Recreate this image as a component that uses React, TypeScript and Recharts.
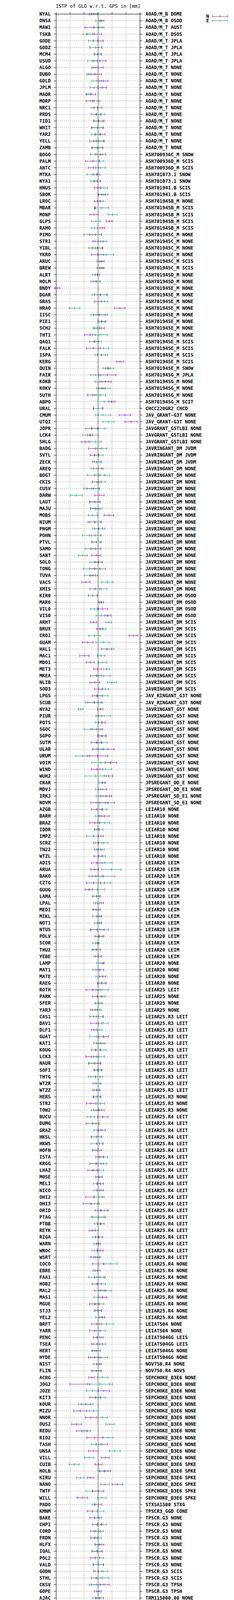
import React from 'react';
import { CartesianGrid, ComposedChart, ErrorBar, Legend, ReferenceLine, Scatter, XAxis, YAxis } from 'recharts';

// station names, top to bottom
const stations = [
  'NYAL', 'ONSA', 'MAW1', 'TSKB', 'GODE', 'GODZ', 'MCM4', 'USUD', 'ALGO', 'DUBO',
  'GOLD', 'JPLM', 'MADR', 'MORP', 'NRC1', 'PRDS', 'TID1', 'WHIT', 'YAR2', 'YELL',
  'ZAMB', 'BOGO', 'PALM', 'ANTC', 'MTKA', 'NYA1', 'HNUS', 'SBOK', 'LROC', 'MBAR',
  'MONP', 'GLPS', 'RAMO', 'PIMO', 'STR1', 'YIBL', 'YKRO', 'ARUC', 'BREW', 'ALRT',
  'HOLM', 'BNDY', 'DGAR', 'GRAS', 'HRAO', 'IISC', 'PIE1', 'SCH2', 'THTI', 'QAQ1',
  'FALK', 'ISPA', 'KERG',
  'QUIN', 'FAIR', 'KOKB', 'KOKV', 'SUTH', 'ABPO', 'URAL', 'CMUM', 'UTQI', 'JDPR',
  'LCK4', 'SHLG', 'BADG', 'SVTL', 'ZECK', 'AREQ', 'BOGT', 'CKIS', 'CUSV', 'DARW',
  'LAUT', 'MAJU', 'MOBS', 'NIUM', 'PNGM', 'POHN', 'PTVL', 'SAMO', 'SANT', 'SOLO',
  'TONG', 'TUVA', 'VACS', 'XMIS', 'KIR0', 'MAR6', 'VIL0', 'VIS0', 'ARHT', 'BRUX',
  'CRO1', 'GUAM', 'HAL1', 'MAC1', 'MDO1', 'MET3', 'MKEA', 'NLIB',
  'SOD3', 'LPGS', 'SCUB', 'NYA2', 'PIUR', 'POTS', 'SGOC', 'SGPO', 'SUTM', 'ULAB',
  'URUM', 'VOIM', 'WIND', 'WUH2', 'CRAR', 'MDVJ', 'IRKJ', 'NOVM', 'AZGB', 'BARH',
  'BRAZ', 'IDDR', 'IMPZ', 'SCRZ', 'TN22', 'WTZL', 'ADIS', 'ARUA', 'BAKO', 'CZTG',
  'GUUG', 'LAMA', 'LPAL', 'MEDI', 'MIKL', 'NOT1', 'NTUS', 'POLV', 'SCOR', 'THU2',
  'YEBE', 'LAMP', 'MAT1', 'MATE', 'RAEG', 'ROTH', 'PARK', 'SFER', 'YAR3',
  'CAS1', 'DAV1', 'DLF1', 'GUAT', 'KAT1', 'KOUG', 'LCK3', 'NAUR', 'SOFI', 'THTG',
  'WTZR', 'WTZZ', 'HERS', 'STR2', 'TOW2', 'BUCU', 'DUMG', 'GRAZ', 'HKSL', 'HKWS',
  'HOFN', 'ISTA', 'KRGG', 'LHAZ', 'M0SE', 'MELI', 'NICO', 'OHI2', 'OHI3', 'ORID',
  'PTAG', 'PTBB', 'REYK', 'RIGA', 'WARN', 'WROC', 'WSRT', 'COCO', 'EBRE', 'FAA1',
  'HOB2', 'MAL2', 'MAS1', 'MGUE', 'STJ3', 'YEL2', 'BRFT', 'YARR',
  'PENC', 'TSEA', 'HERT', 'HYDE', 'NIST', 'FLIN', 'ACRG', 'JOG2', 'JOZE', 'KIT3',
  'KOUR', 'MIZU', 'NNOR', 'OUS2', 'REDU', 'RIO2', 'TASH', 'UNSA', 'VILL', 'CUIB',
  'HOLB', 'KIRU', 'NANO', 'TWTF', 'WILL', 'PADO', 'KMNM', 'BAKE', 'CHPI', 'CORD',
  'FRDN', 'HLFX', 'IQAL', 'POL2', 'VALD', 'GODN', 'STHL', 'CKSV', 'GOPE', 'AJAC',
  'AUCK', 'BELE', 'BOAV', 'CHTI', 'GLSV', 'INEG', 'MNLS', 'MQZG',
  'POAL', 'POVE', 'SALU', 'SAVO', 'SCTB', 'TNML', 'TOPL', 'TXES', 'UFPR', 'VTSP',
  'WARK', 'WGTN', 'NRMD', 'AC24', 'DYNG', 'FLRS', 'FUNC', 'PDEL', 'TSK2', 'SYOG',
  'RABT', 'ASPA', 'REUN', 'UNBD', 'ABMF', 'BRST', 'CNMR', 'GRAC', 'ISBA', 'LMMF',
  'MARS', 'NVSK', 'PARC', 'STPM', 'TABL', 'TABV', 'UNB3', 'UNBJ', 'KOUC', 'AREG',
  'ASCG', 'BBYS', 'BOR1', 'CAGS', 'CHPG', 'CPVG', 'DJIG', 'FTNA',
  'GAMB', 'HARB', 'JFNG', 'JOZ2', 'KIRI', 'MAYG', 'MRO1', 'OWMG', 'PERT', 'SEYG',
  'TLSE', 'ZIM2', 'ZIM3', 'SPT0', 'AIRA', 'ALBH', 'BSHM', 'CCJ2', 'COTE', 'DAEJ',
  'GANP', 'GMSD', 'KITG', 'KZN2', 'METG', 'NKLG', 'RBAY', 'RDSD', 'RGDG', 'STK2',
  'TRO1', 'VNDP', 'P051', 'P779', 'WUHN', 'MCIL', 'SSIA', 'SUWN', 'MANA', 'CPXF',
  'KSU1', 'BJFS', 'DUBI', 'ALIC', 'CEDU', 'HNPT', 'KARR', 'SYDN', 'DRAO', 'CHUR',
  'NAIN', 'RESO', 'STJO', 'WES2',
];

// antenna + radome label for each run of consecutive stations
const antennaRuns: [string, number][] = [
  ['AOAD/M_B DOME', 1], ['AOAD/M_B OSOD', 1], ['AOAD/M_T AUST', 1], ['AOAD/M_T DSOS', 1],
  ['AOAD/M_T JPLA', 4], ['AOAD/M_T NONE', 13], ['ASH700936C_M SNOW', 1], ['ASH700936D_M SCIS', 2],
  ['ASH701073.1 SNOW', 2], ['ASH701941.B SCIS', 2], ['ASH701945B_M NONE', 1], ['ASH701945B_M SCIS', 4],
  ['ASH701945C_M NONE', 4], ['ASH701945C_M SCIS', 2], ['ASH701945D_M NONE', 2], ['ASH701945E_M NONE', 8],
  ['ASH701945E_M SCIS', 4], ['ASH701945E_M SNOW', 1], ['ASH701945G_M JPLA', 1], ['ASH701945G_M NONE', 3],
  ['ASH701945G_M SCIT', 1], ['CHCC220GR2 CHCD', 1], ['JAV_GRANT-G3T NONE', 2], ['JAVGRANT_G5TLBI NONE', 3],
  ['JAVRINGANT_DM JVDM', 3], ['JAVRINGANT_DM NONE', 19], ['JAVRINGANT_DM OSOD', 4], ['JAVRINGANT_DM SCIS', 11],
  ['JAV_RINGANT_G3T NONE', 2], ['JAVRINGANT_G5T NONE', 11], ['JPSREGANT_DD_E NONE', 1], ['JPSREGANT_DD_E1 NONE', 1],
  ['JPSREGANT_SD_E1 NONE', 2], ['LEIAR10 NONE', 8], ['LEIAR20 LEIM', 15], ['LEIAR20 NONE', 4],
  ['LEIAR25 LEIT', 1], ['LEIAR25 NONE', 3], ['LEIAR25.R3 LEIT', 12], ['LEIAR25.R3 NONE', 3],
  ['LEIAR25.R4 LEIT', 22], ['LEIAR25.R4 NONE', 9], ['LEIAT504 NONE', 2], ['LEIAT504GG LEIS', 2],
  ['LEIAT504GG NONE', 2], ['NOV750.R4 NONE', 1], ['NOV750.R4 NOVS', 1], ['SEPCHOKE_B3E6 NONE', 13],
  ['SEPCHOKE_B3E6 SPKE', 6], ['STXSA1500 STXG', 1], ['TPSCR3_GGD CONE', 1], ['TPSCR.G3 NONE', 8],
  ['TPSCR.G3 SCIS', 2], ['TPSCR.G3 TPSH', 2], ['TRM115000.00 NONE', 21], ['TRM115000.00 TZGD', 1],
  ['TRM159800.00 SCIT', 1], ['TRM159900.00 NONE', 5], ['TRM159900.00 SCIS', 1], ['TRM29659.00 SCIS', 1],
  ['TRM55971.00 NONE', 3], ['TRM57971.00 NONE', 14], ['TRM57971.00 TZGD', 1], ['TRM59800.00 NONE', 22],
  ['TRM59800.00 OSOD', 1], ['TRM59800.00 SCIS', 18], ['TRM59800.00 SCIT', 2], ['TRM59800.00C ENCL', 1],
  ['TRM59800.80 SCIS', 3], ['TRM59800.99 SCIS', 1], ['TRM59800.99 SCIT', 2], ['TRM59900.00 SCIS', 2],
  ['TWIVC6050 NONE', 5], ['TWIVC6050 SCIS', 1], ['TWIVC6150 NONE', 5],
];

// North component: offset and half-width of the bar [mm]
const nValue = [
  -2.35, 1.33, -1.55, -1.42, 0.02, -0.8, 0.0, 0.63, 0.0, -1.14,
  1.93, 1.47, -2.67, -1.84, -0.16, -0.72, 0.26, -0.26, 0.67, -0.53,
  -0.3, 0.86, -2.0, -1.74, -0.5, -0.28, -0.16, 1.23, -0.26, -1.14,
  -1.46, 3.98, 1.51, -0.91, 0.0, -0.21, -0.16, 1.05, 1.33, -0.26,
  -0.5, -14.6, 0.9, 0.02, 7.74, 0.44, 1.2, 0.44, -2.84, -1.42,
  -1.74, 1.2, 7.86,
  3.47, 3.33, 2.63, 1.4, -1.88, 4.95, 0.0, 9.6, 11.8, -2.4,
  -2.9, -4.66, -1.0, -1.28, -0.5, 0.07, 0.63, -0.49, -1.74, 0.49,
  -1.14, -1.05, 3.88, -1.28, 0.2, -1.05, -0.6, -0.86, -0.63, 0.16,
  -1.2, -1.86, -4.35, -1.14, -1.93, 1.1, 1.6, 3.56, -1.6, 0.63,
  12.63, -3.7, 3.0, -4.95, -2.81, -0.16, -0.7, -1.19,
  0.1, -0.3, -1.28, 0.77, 0.3, 1.37, -0.5, 1.37, -0.63, 1.88,
  -0.16, 4.55, -0.4, 3.7, 1.4, 1.6, 2.86, 0.49, -0.5, 2.3,
  -1.19, -0.4, 0.12, 0.2, 0.1, 0.0, -0.44, -1.19, -0.77, -1.6,
  -3.3, -0.63, 0.5, -0.45, 0.4, 0.5, -0.35, 0.5, -0.2, -0.72,
  0.2, 1.8, 0.67, 1.65, 1.33, -1.88, -0.26, 0.16, -1.05,
  -0.63, -0.63, -1.47, 1.9, 0.95, -0.77, -2.44, -1.23, -0.16, -1.0,
  -0.6, -0.6, -0.4, -2.58, 0.3, 1.7, -1.98, 1.37, -0.58, 0.5,
  -0.3, 0.53, -0.5, -2.0, 0.35, 0.77, 0.63, -1.5, -2.44, 1.1,
  0.07, 1.0, -2.1, 0.3, 0.2, 0.67, -1.0, 0.07, -0.3, 0.63,
  -0.44, 0.77, 1.53, -1.23, -0.05, 1.5, -0.5, -1.28,
  -0.2, -0.4, -0.6, -1.2, 0.3, -0.6, -2.3, -3.0, 2.07, -1.0,
  -4.4, -6.35, -2.58, -7.7, -5.9, -1.2, 1.37, -1.74, 2.58, 0.2,
  2.4, -2.7, 6.9, 0.07, -5.63, 0.07, -2.1, -1.28, -0.35, -0.9,
  -1.4, 0.5, -0.4, -1.05, 0.1, 0.07, -0.44, 0.77, 0.1, 0.5,
  0.07, 0.0, 1.0, -0.63, 0.4, 1.0, -3.93, -1.19,
  -0.5, -0.35, 0.5, 1.8, 0.77, -1.74, 0.9, 1.47, 0.0, -0.2,
  -0.6, -0.2, -0.6, -0.44, -0.9, -0.16, -3.23, -1.33, -2.44, -0.16,
  -0.2, 0.12, -0.16, -0.3, 0.0, -0.8, -2.3, -3.0, -1.33, 0.0,
  0.5, -0.77, -1.56, -0.44, 0.0, 0.5, -1.05, -0.77, 1.6, -2.16,
  -1.37, 3.37, -0.6, -1.9, -0.35, 0.7, -1.0, -0.35,
  -3.56, -1.84, -2.7, 1.65, -1.4, 0.16, -0.63, -1.47, -1.42, 0.0,
  -2.1, -2.2, -2.2, -0.63, -0.16, -0.9, 1.56, -0.9, 1.1, 0.58,
  -0.44, 0.6, -0.3, 0.3, -2.16, 0.8, 1.2, 2.5, -1.05, -0.05,
  -0.58, 0.95, 1.79, -0.72, -2.2, -0.2, 0.0, -0.8, 0.9, 0.2,
  -0.9, 0.4, 0.07, 0.4, 4.0, 0.2, -0.2, -0.77, 0.12, -0.86,
  0.6, -0.77, 0.07, 2.07,
];
const nError = [
  0.7, 0.75, 3.1, 2.67, 1.77, 2.1, 1.3, 2.2, 1.8, 2.4,
  1.63, 1.6, 1.7, 2.44, 1.6, 1.8, 1.9, 2.2, 1.8, 2.5,
  1.77, 1.9, 2.5, 1.8, 1.1, 1.2, 1.1, 1.3, 1.0, 0.1,
  1.45, 1.1, 0.84, 2.1, 1.84, 1.9, 2.2, 1.1, 0.8, 0.86,
  1.3, 0.86, 2.2, 1.23, 1.9, 2.1, 1.3, 1.8, 1.95, 1.56,
  2.5, 1.5, 1.26,
  0.84, 3.1, 2.02, 1.1, 1.9, 1.1, 1.75, 2.1, 2.2, 2.1,
  0.9, 1.35, 2.4, 1.56, 1.5, 1.67, 1.8, 1.65, 2.26, 1.67,
  1.75, 1.72, 1.7, 2.3, 1.45, 2.07, 1.5, 1.9, 1.7, 1.4,
  1.9, 1.0, 1.5, 1.8, 1.55, 0.86, 1.8, 1.1, 1.1, 1.1,
  1.56, 1.9, 1.9, 1.67, 1.42, 1.37, 2.0, 1.75,
  1.4, 1.8, 2.4, 0.95, 1.05, 1.2, 2.1, 1.6, 1.9, 3.8,
  3.7, 2.1, 2.0, 1.5, 1.0, 1.5, 2.0, 3.07, 1.9, 1.65,
  1.8, 0.8, 1.7, 1.8, 1.37, 1.5, 1.9, 1.42, 2.5, 2.5,
  1.3, 1.4, 1.4, 1.2, 0.85, 0.8, 2.5, 1.6, 0.65, 1.5,
  1.14, 0.4, 1.37, 1.14, 1.6, 2.5, 1.7, 1.26, 1.67,
  2.3, 2.0, 0.84, 1.8, 1.5, 1.6, 1.95, 2.2, 1.4, 1.6,
  1.2, 1.3, 1.4, 1.63, 1.9, 1.9, 2.35, 1.2, 1.7, 1.0,
  1.5, 1.33, 2.4, 1.67, 1.2, 1.14, 1.26, 3.0, 2.93, 2.2,
  2.1, 1.16, 1.1, 1.33, 0.7, 1.1, 1.6, 2.0, 1.0, 1.9,
  1.7, 2.0, 1.53, 1.77, 1.33, 0.84, 1.84, 1.8,
  1.53, 2.0, 1.4, 2.2, 0.9, 1.8, 1.1, 7.1, 2.1, 1.95,
  1.67, 2.37, 2.0, 1.77, 1.9, 2.8, 2.0, 1.7, 1.4, 1.28,
  2.0, 1.2, 1.9, 2.0, 1.9, 1.33, 1.8, 1.7, 1.6, 1.74,
  1.3, 1.56, 1.9, 1.6, 1.9, 1.7, 1.98, 3.2, 0.6, 1.4,
  2.0, 1.84, 1.0, 1.4, 1.5, 1.5, 2.2, 1.67,
  1.74, 1.8, 2.1, 1.0, 1.33, 1.86, 1.67, 2.5, 1.84, 1.5,
  1.5, 1.5, 1.84, 1.3, 1.47, 1.95, 1.6, 1.5, 1.6, 2.2,
  1.47, 2.1, 1.95, 1.56, 1.7, 1.0, 2.37, 0.9, 1.8, 1.7,
  0.77, 2.16, 2.6, 1.67, 1.33, 1.74, 1.6, 1.8, 0.77, 1.6,
  2.0, 1.05, 1.33, 0.77, 1.8, 2.16, 2.16, 2.37,
  1.95, 2.0, 2.37, 1.07, 1.93, 2.3, 1.88, 1.5, 1.5, 2.0,
  1.1, 1.1, 1.3, 1.28, 1.5, 1.74, 1.5, 2.2, 0.3, 2.0,
  1.4, 1.1, 1.35, 2.3, 0.95, 0.9, 1.4, 1.8, 2.5, 2.8,
  1.3, 1.53, 1.8, 1.67, 3.3, 2.0, 1.8, 2.05, 2.1, 1.9,
  1.0, 2.2, 1.35, 1.95, 4.0, 1.77, 1.9, 1.8, 1.6, 2.0,
  1.0, 1.26, 1.74, 2.7,
];

// East component: offset and half-width of the bar [mm] (null = no bar shown)
const eValue = [
  -0.67, 0.07, 0.35, -3.69, -1.79, -0.8, -0.3, -2.0, -1.14, -2.58,
  -0.49, -1.42, -3.23, -2.02, -1.28, 0.9, 0.2, -0.26, -0.81, 0.35,
  -0.26, -0.58, 0.3, 0.9, -2.1, -1.33, 2.07, 1.88, 1.42, 1.37,
  5.23, -0.77, -1.28, -1.98, 0.9, -0.91, 2.86, 0.53, 0.67, -1.09,
  -0.9, null, 0.58, 2.3, -8.4, 0.44, 1.37, -0.3, 0.63, 0.07,
  1.93, 1.19, null,
  3.7, -0.9, 1.37, 1.88, 0.77, 2.3, 0.0, 1.74, 3.7, 0.16,
  -2.72, -0.9, 1.37, 0.21, 0.0, -0.63, 0.16, 0.26, -2.35, -7.84,
  -1.14, -0.63, -1.88, -0.95, 0.21, -2.35, -0.63, -2.3, -5.5, -0.77,
  -1.33, -2.53, 3.28, 1.19, -1.93, 0.63, -1.33, 1.23, 3.74, 1.74,
  -1.28, 1.74, 3.42, 1.09, 1.6, 3.05, 2.0, 4.95,
  2.6, 1.47, -1.47, -6.2, 2.16, 0.16, -2.0, 1.51, 1.42, 1.47,
  -5.5, 1.05, 2.7, -0.9, 1.6, 0.0, 1.74, 2.6, 1.56, 0.26,
  2.3, 0.3, -1.56, 1.37, 0.86, 1.5, 2.3, 4.7, 1.93, 2.3,
  -0.3, -0.5, -0.2, -0.9, -0.45, 0.0, 0.58, 0.26, -0.8, -0.45,
  -0.3, 0.67, -0.72, 0.44, 1.3, 1.51, 1.05, 0.2, -0.35,
  0.12, 1.88, 0.63, -0.5, 0.07, 0.9, 0.35, -1.23, 0.12, -0.9,
  0.0, -0.5, -0.4, 0.9, -0.63, -2.58, -0.77, -0.35, -0.58, -0.35,
  -0.9, 2.07, 1.05, 0.2, 0.35, -0.5, -0.16, 0.35, -1.33, 2.3,
  0.07, -0.26, -1.0, -1.0, -0.6, -1.19, -0.4, 4.4, -0.9, -0.63,
  1.23, 2.35, 0.07, 0.5, 0.12, 0.26, 3.0, 0.95,
  0.67, 0.5, -1.2, 0.3, -0.5, -0.6, 1.6, 0.63, -2.0, 0.9,
  -4.4, -1.6, 1.6, 4.26, -3.84, 3.56, -0.77, 5.93, -3.14, -8.56,
  2.1, -6.35, 2.44, -2.16, 1.33, -1.05, 0.0, 0.07, 1.4, 0.2,
  0.07, 0.07, -0.26, 0.5, 0.1, 1.19, 1.51, -0.5, 0.0, -0.67,
  1.5, 1.23, 0.77, 0.6, 0.5, 0.2, 0.16, 0.63,
  2.77, 2.16, 2.5, 0.1, 0.0, 1.05, 1.88, 2.35, 1.37, 1.8,
  1.05, 1.1, 0.35, 1.6, -0.35, 0.4, 1.88, -0.5, -0.35, 0.77,
  0.5, 0.12, 2.86, -0.2, -2.3, 0.0, -1.6, 0.63, 2.3, -2.16,
  -1.2, -0.77, 0.35, 0.2, 1.47, 1.37, 0.58, 0.67, -0.9, -0.26,
  2.16, 0.63, -0.6, -0.35, 1.6, -1.56, -0.5, -2.16,
  0.0, 0.12, -1.47, 0.8, -1.42, 1.37, 0.5, 1.05, 0.5, 0.0,
  -2.1, -1.1, -1.1, -1.93, 0.0, 0.16, -0.16, 0.16, 0.0, -1.37,
  0.86, -0.7, 0.5, -0.77, 0.2, 1.05, 0.63, 0.3, -0.63, -1.6,
  -0.58, -0.16, 0.07, -0.72, -2.3, -0.9, 0.0, -0.8, -2.0, 0.63,
  0.9, -0.5, -3.84, 0.5, 4.56, -0.6, 0.77, 1.05, 0.5, 0.95,
  -0.3, -0.44, 0.07, 0.77,
];
const eError = [
  0.5, 0.9, 1.8, 1.74, 1.6, 2.2, 1.25, 1.77, 1.2, 1.5,
  1.8, 1.5, 0.84, 0.6, 1.2, 1.45, 1.55, 1.84, 1.63, 1.93,
  2.05, 2.2, 1.8, 1.65, 1.84, 1.35, 1.23, 1.7, 0.63, 2.4,
  1.63, 1.56, 1.16, 3.16, 2.05, 2.4, 2.7, 1.0, 1.1, 0.9,
  1.7, null, 2.74, 1.1, 1.86, 3.0, 1.47, 1.5, 2.7, 1.16,
  1.84, 2.3, null,
  1.95, 1.86, 2.44, 2.44, 1.9, 2.35, 1.5, 2.7, 2.0, 2.3,
  2.8, 1.98, 1.74, 1.53, 1.35, 1.85, 4.0, 2.28, 2.8, 2.2,
  1.9, 2.1, 1.6, 2.07, 2.2, 3.3, 1.85, 2.3, 1.63, 2.26,
  3.93, 2.4, 2.1, 1.95, 1.6, 0.65, 1.49, 1.9, 1.05, 1.07,
  2.05, 2.5, 2.26, 1.35, 1.5, 1.14, 2.4, 1.63,
  1.2, 2.07, 3.1, 0.84, 2.28, 1.14, 3.0, 1.2, 1.8, 2.1,
  2.5, 3.4, 2.0, 3.77, 1.2, 0.9, 2.4, 3.3, 1.6, 1.14,
  1.83, 1.42, 2.5, 2.3, 1.35, 1.2, 2.7, 3.47, 4.1, 2.23,
  2.6, 1.05, 1.4, 1.1, 1.5, 1.28, 3.16, 1.4, 1.2, 1.3,
  1.2, 1.2, 1.16, 1.23, 1.2, 2.2, 1.4, 1.26, 1.7,
  1.74, 1.7, 0.84, 2.6, 1.67, 1.95, 1.95, 2.0, 1.35, 2.58,
  1.1, 0.9, 1.26, 1.42, 1.84, 1.35, 1.2, 1.2, 2.0, 2.2,
  1.2, 1.33, 2.0, 1.8, 1.16, 1.2, 1.35, 1.8, 1.2, 1.4,
  2.6, 1.1, 1.1, 1.1, 0.85, 1.0, 1.2, 2.4, 0.9, 2.7,
  1.4, 2.3, 1.53, 1.6, 1.0, 1.1, 2.5, 1.63,
  1.23, 2.3, 1.2, 3.0, 1.26, 1.33, 1.95, 4.47, 2.1, 1.63,
  2.6, 1.67, 1.67, 1.5, 1.2, 1.8, 1.67, 1.98, 1.63, 1.77,
  1.5, 1.37, 1.5, 2.2, 1.56, 1.1, 2.07, 1.28, 1.6, 1.6,
  1.1, 1.23, 1.63, 1.5, 1.7, 2.23, 2.3, 2.65, 1.28, 1.28,
  1.42, 2.67, 2.3, 1.3, 1.63, 1.7, 1.35, 1.5,
  1.42, 2.16, 2.67, 2.0, 1.28, 2.16, 2.2, 1.56, 1.8, 1.42,
  1.5, 1.35, 1.84, 1.6, 1.42, 1.42, 1.86, 1.35, 1.42, 2.0,
  1.5, 2.8, 2.1, 1.2, 2.7, 1.3, 2.4, 1.1, 1.7, 2.65,
  1.2, 1.9, 1.8, 1.14, 1.3, 1.65, 1.07, 1.84, 1.8, 1.84,
  3.42, 1.1, 1.12, 0.7, 2.0, 3.2, 2.0, 2.4,
  2.9, 2.0, 2.8, 1.2, 2.5, 2.47, 1.84, 1.42, 1.5, 2.8,
  1.1, 1.2, 1.2, 1.26, 1.4, 1.56, 1.8, 1.9, 1.2, 1.67,
  1.12, 1.0, 1.53, 1.95, 0.56, 2.53, 1.8, 4.3, 1.77, 1.56,
  1.19, 1.63, 1.63, 1.63, 2.5, 2.37, 2.75, 1.77, 2.86, 1.5,
  1.0, 1.67, 2.5, 1.7, 3.8, 1.9, 1.7, 1.53, 1.53, 1.84,
  0.9, 0.9, 1.28, 3.07,
];

const xTicks = [-15, -10, -5, 0, 5, 10, 15];
const legendItems = [
  { label: 'N', color: '#9400d3' },
  { label: 'E', color: '#009e73' },
];

const antennas = antennaRuns.flatMap(([label, count]) => Array(count).fill(label));
const rows = stations.map((name, i) => ({
  name,
  ant: antennas[i],
  n: nValue[i],
  nErr: nError[i],
  e: eValue[i],
  eErr: eError[i],
}));

const FONT = '"DejaVu Sans Mono", monospace';
const PURPLE = '#9400d3';
const GREEN = '#009e73';
const tickStyle = { fontSize: 12, fontWeight: 700, fill: '#000', fontFamily: FONT };

// short vertical mark at the centre value of each bar
const centreMark = (color: string) => (p: any) =>
  p.cx == null || p.cy == null || Number.isNaN(p.cx) ? (
    <g />
  ) : (
    <line x1={p.cx} x2={p.cx} y1={p.cy - 3.5} y2={p.cy + 3.5} stroke={color} strokeWidth={1} />
  );

function LegendBox() {
  return (
    <svg width={80} height={30} style={{ display: 'block', overflow: 'visible' }}>
      {legendItems.map((it, i) => {
        const y = 8 + i * 11;
        return (
          <g key={it.label}>
            <text x={21} y={y} dy="0.36em" textAnchor="end" fontFamily={FONT} fontWeight={700} fontSize={12} fill="#000">
              {it.label}
            </text>
            <line x1={30} x2={68} y1={y} y2={y} stroke={it.color} strokeWidth={1} />
            {[30, 49, 68].map((x) => (
              <line key={x} x1={x} x2={x} y1={y - 3.5} y2={y + 3.5} stroke={it.color} strokeWidth={1} />
            ))}
          </g>
        );
      })}
    </svg>
  );
}

export default function App() {
  return (
    <div style={{ position: 'relative', width: 600, height: 6016, margin: -8, background: '#fff', fontFamily: FONT }}>
      <div
        style={{
          position: 'absolute',
          left: 100,
          width: 303,
          top: 9,
          lineHeight: '14px',
          fontSize: 12,
          textAlign: 'center',
          whiteSpace: 'nowrap',
          color: '#000',
        }}
      >
        ISTP of GLO w.r.t. GPS in [mm]
      </div>
      <ComposedChart
        width={600}
        height={6016}
        data={rows}
        layout="vertical"
        margin={{ top: 30, right: 0, bottom: 13, left: 0 }}
        style={{ fontFamily: FONT }}
      >
        <CartesianGrid xAxisId="n" yAxisId="l" stroke="#a0a0a0" strokeDasharray="3 2" />
        <XAxis
          xAxisId="n"
          type="number"
          dataKey="n"
          domain={[-15, 15]}
          ticks={xTicks}
          interval={0}
          allowDataOverflow
          orientation="bottom"
          height={30}
          tick={tickStyle}
          tickSize={6}
          tickMargin={6}
          stroke="#000"
        />
        <XAxis
          xAxisId="e"
          type="number"
          dataKey="e"
          domain={[-15, 15]}
          ticks={xTicks}
          interval={0}
          allowDataOverflow
          orientation="top"
          height={6}
          tickSize={5}
          tickFormatter={() => ''}
          stroke="#000"
        />
        <YAxis
          yAxisId="l"
          type="category"
          dataKey="name"
          width={144}
          interval={0}
          tick={tickStyle}
          tickSize={6}
          tickMargin={8}
          stroke="#000"
        />
        <YAxis
          yAxisId="r"
          type="category"
          dataKey="ant"
          orientation="right"
          width={241}
          interval={0}
          tick={tickStyle}
          tickSize={6}
          tickMargin={8}
          stroke="#000"
        />
        <ReferenceLine xAxisId="n" yAxisId="l" x={0} stroke="#000" strokeDasharray="2 2" strokeWidth={1.5} />
        <Scatter xAxisId="n" yAxisId="l" name="N" fill={PURPLE} shape={centreMark(PURPLE)} isAnimationActive={false}>
          <ErrorBar dataKey="nErr" direction="x" width={3.5} stroke={PURPLE} strokeWidth={1} isAnimationActive={false} />
        </Scatter>
        <Scatter xAxisId="e" yAxisId="l" name="E" fill={GREEN} shape={centreMark(GREEN)} isAnimationActive={false}>
          <ErrorBar dataKey="eErr" direction="x" width={3.5} stroke={GREEN} strokeWidth={1} isAnimationActive={false} />
        </Scatter>
        <Legend
          layout="vertical"
          align="center"
          verticalAlign="middle"
          content={() => <LegendBox />}
          wrapperStyle={{ left: 515, top: 34, width: 80, height: 30 }}
        />
      </ComposedChart>
      <div
        style={{
          position: 'absolute',
          left: 8,
          top: 6001,
          lineHeight: '14px',
          fontSize: 12,
          fontWeight: 700,
          whiteSpace: 'nowrap',
          color: '#000',
        }}
      >
        08-Aug-2026 05:25:22
      </div>
    </div>
  );
}
